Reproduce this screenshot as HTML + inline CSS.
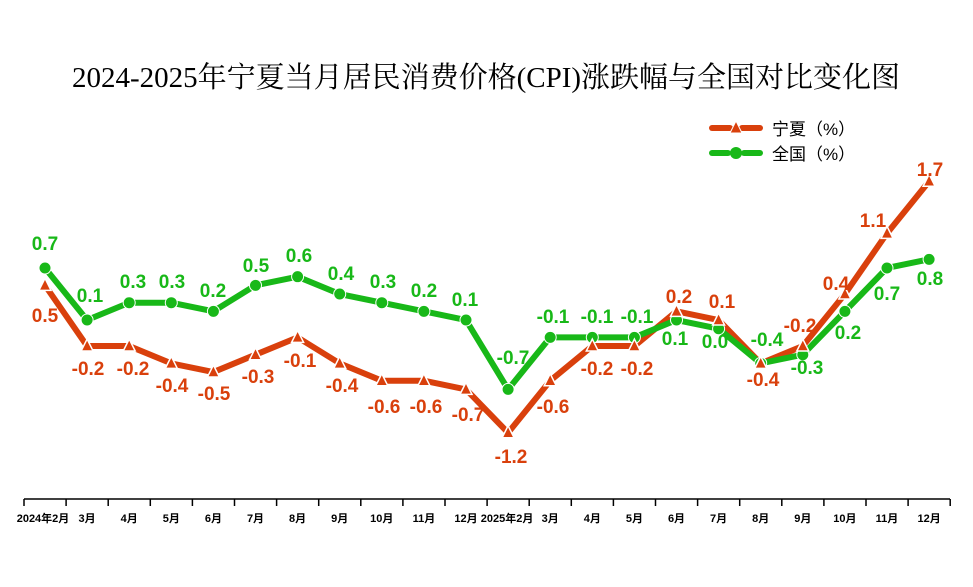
<!DOCTYPE html><html><head><meta charset="utf-8"><style>body{margin:0;background:#fff}svg{display:block}</style></head><body>
<svg width="973" height="587" xmlns="http://www.w3.org/2000/svg">
<text x="486" y="87" text-anchor="middle" font-family="Liberation Serif, Noto Serif CJK SC, serif" font-size="29" fill="#000">2024-2025年宁夏当月居民消费价格(CPI)涨跌幅与全国对比变化图</text>
<g font-family="Liberation Sans, Noto Sans CJK SC, sans-serif" font-size="17">
<line x1="712" y1="128" x2="730" y2="128" stroke="#d9400c" stroke-width="6" stroke-linecap="round"/><line x1="742" y1="128" x2="760" y2="128" stroke="#d9400c" stroke-width="6" stroke-linecap="round"/><polygon points="736,121 730,133 742,133" fill="#d9400c" stroke="#fff" stroke-width="1"/>
<text x="772" y="135">宁夏（%）</text>
<line x1="712" y1="153" x2="728" y2="153" stroke="#18b818" stroke-width="6" stroke-linecap="round"/><line x1="744" y1="153" x2="760" y2="153" stroke="#18b818" stroke-width="6" stroke-linecap="round"/><circle cx="736" cy="153" r="6" fill="#18b818"/>
<text x="772" y="160">全国（%）</text>
</g>
<line x1="24" y1="499" x2="950" y2="499" stroke="#000" stroke-width="1.5"/>
<g id="ticks" stroke="#000" stroke-width="1.5"></g>
<g id="xl" font-family="Liberation Sans, Noto Sans CJK SC, sans-serif" font-size="11" font-weight="bold" text-anchor="middle"></g>
<polyline id="nx" fill="none" stroke="#d9400c" stroke-width="6" stroke-linejoin="round"/>
<polyline id="qg" fill="none" stroke="#18b818" stroke-width="6" stroke-linejoin="round"/>
<g id="mk"></g>
<g id="lb" font-family="Liberation Sans, sans-serif" font-size="19" font-weight="bold" text-anchor="middle"></g>
<script>
var N=[0.5,-0.2,-0.2,-0.4,-0.5,-0.3,-0.1,-0.4,-0.6,-0.6,-0.7,-1.2,-0.6,-0.2,-0.2,0.2,0.1,-0.4,-0.2,0.4,1.1,1.7];
var Q=[0.7,0.1,0.3,0.3,0.2,0.5,0.6,0.4,0.3,0.2,0.1,-0.7,-0.1,-0.1,-0.1,0.1,0.0,-0.4,-0.3,0.2,0.7,0.8];
var NL=[[45,322],[88,375],[133,375],[172,392],[214,400],[258,383],[300,367],[342,392],[384,413],[426,413],[468,421],[511,463],[553,413],[597,375],[637,375],[679,303],[722,308],[763,386],[800,332],[836,290],[873,227],[930,176]];
var QL=[[45,250],[90,302],[133,288],[172,288],[213,297],[256,272],[299,262],[341,280],[383,288],[424,297],[465,306],[513,364],[553,323],[597,323],[637,323],[675,345],[715,348],[767,346],[807,374],[848,339],[887,300],[930,285]];
var X=i=>45+i*42.1, Y=v=>328.7-v*86.7;
var ns="http://www.w3.org/2000/svg";
function el(p,t,a,tx){var e=document.createElementNS(ns,t);for(var k in a)e.setAttribute(k,a[k]);if(tx!=null)e.textContent=tx;document.getElementById(p).appendChild(e);}
document.getElementById('nx').setAttribute('points',N.map((v,i)=>X(i)+','+Y(v)).join(' '));
document.getElementById('qg').setAttribute('points',Q.map((v,i)=>X(i)+','+Y(v)).join(' '));
var ml=['2024年2月','3月','4月','5月','6月','7月','8月','9月','10月','11月','12月','2025年2月','3月','4月','5月','6月','7月','8月','9月','10月','11月','12月'];
for(var i=0;i<=22;i++){var tx=24+i*42.1;el('ticks','line',{x1:tx,y1:499,x2:tx,y2:506});}
ml.forEach((m,i)=>el('xl','text',{x:X(i)+(i==0?-2:i==11?-1:0),y:522},m));
Q.forEach((v,i)=>el('mk','circle',{cx:X(i),cy:Y(v),r:6,fill:'#18b818',stroke:'#fff','stroke-width':1}));
N.forEach((v,i)=>{var x=X(i),y=Y(v);el('mk','polygon',{points:(x)+','+(y-7)+' '+(x-6)+','+(y+5)+' '+(x+6)+','+(y+5),fill:'#d9400c',stroke:'#fff','stroke-width':1.5});});
N.forEach((v,i)=>el('lb','text',{x:NL[i][0],y:NL[i][1],fill:'#d9400c'},v.toFixed(1)));
Q.forEach((v,i)=>el('lb','text',{x:QL[i][0],y:QL[i][1],fill:'#18b818'},v.toFixed(1)));
</script>
</svg></body></html>
